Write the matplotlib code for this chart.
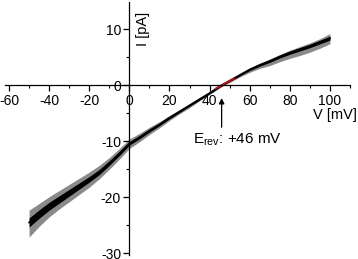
import matplotlib
matplotlib.use("Agg")
import matplotlib.pyplot as plt
from matplotlib.ticker import MultipleLocator

plt.rcParams["font.family"] = ["Liberation Sans", "DejaVu Sans"]
plt.rcParams["axes.unicode_minus"] = False
plt.rcParams["mathtext.default"] = "regular"

# I-V trace (centre line + noise envelope)
voltage = [-50, -45, -40, -35, -30, -25, -20, -15, -10, -5, 0, 5, 10, 15, 20, 25,
           30, 35, 40, 46, 50, 55, 60, 65, 70, 75, 80, 85, 90, 95, 100]
current = [-24.5, -23.0, -21.6, -20.4, -19.2, -18.0, -16.8, -15.5, -13.9, -12.2,
           -10.4, -9.3, -8.1, -7.0, -5.8, -4.7, -3.6, -2.5, -1.4, 0.0, 0.8, 1.8,
           2.8, 3.6, 4.3, 5.1, 5.8, 6.4, 7.0, 7.7, 8.4]
noise_up = [2.2, 1.9, 1.7, 1.6, 1.5, 1.4, 1.3, 1.2, 1.0, 0.9, 0.8, 0.7, 0.6, 0.5,
            0.4, 0.35, 0.3, 0.3, 0.25, 0.25, 0.25, 0.3, 0.3, 0.35, 0.4, 0.4, 0.45,
            0.5, 0.55, 0.6, 0.8]
noise_down = [2.6, 2.2, 1.9, 1.7, 1.6, 1.5, 1.4, 1.2, 1.1, 1.0, 0.9, 0.8, 0.7,
              0.6, 0.5, 0.4, 0.4, 0.3, 0.25, 0.25, 0.3, 0.35, 0.5, 0.6, 0.8, 0.9,
              1.0, 1.1, 1.1, 1.1, 1.0]
core = [0.8, 0.75, 0.7, 0.65, 0.6, 0.55, 0.5, 0.45, 0.4, 0.35, 0.3, 0.28, 0.25,
        0.22, 0.2, 0.18, 0.16, 0.15, 0.15, 0.15, 0.15, 0.15, 0.18, 0.2, 0.22,
        0.25, 0.28, 0.3, 0.3, 0.32, 0.35]

# fitted segment around reversal potential
red_v = [43, 46, 52]
red_i = [-0.6, 0.0, 1.2]
e_rev = 46

fig = plt.figure(figsize=(3.58, 2.59), dpi=100)
ax = fig.add_axes([5 / 358, 4 / 259, 345 / 358, 253 / 259])

up = [c + n for c, n in zip(current, noise_up)]
dn = [c - n for c, n in zip(current, noise_down)]
ax.fill_between(voltage, dn, up, color="#8a8a8a", linewidth=0)
ax.fill_between(voltage, [c - w for c, w in zip(current, core)],
                [c + w for c, w in zip(current, core)], color="black", linewidth=0)
ax.plot(voltage, current, color="black", lw=1.2)
ax.plot(red_v, red_i, color="#d01010", lw=1.3)

ax.set_xlim(-62, 110)
ax.set_ylim(-30.3, 14.85)

# axes crossing at the origin
ax.spines["left"].set_position(("data", 0))
ax.spines["bottom"].set_position(("data", 0))
ax.spines["right"].set_visible(False)
ax.spines["top"].set_visible(False)
for s in ("left", "bottom"):
    ax.spines[s].set_linewidth(0.9)

ax.set_xticks([-60, -40, -20, 0, 20, 40, 60, 80, 100])
ax.set_yticks([-30, -20, -10, 0, 10])
ax.xaxis.set_minor_locator(MultipleLocator(10))
ax.yaxis.set_minor_locator(MultipleLocator(5))
ax.tick_params(which="major", direction="out", length=4, width=0.9,
               labelsize=10, pad=2)
ax.tick_params(which="minor", direction="out", length=2, width=0.8)

ax.text(7, 13.0, "I [pA]", rotation=90, ha="center", va="top", fontsize=10.5)
ax.text(113.5, -5.4, "V [mV]", ha="right", va="center", fontsize=10.5)

ax.annotate("", xy=(e_rev, -1.8), xytext=(e_rev, -8.0),
            arrowprops=dict(arrowstyle="-|>", color="black", lw=0.9,
                            mutation_scale=8))
ax.text(31.5, -9.8, r"E$_{rev}$: +46 mV", ha="left", va="center", fontsize=11)

fig.savefig("out.png", dpi=100)
